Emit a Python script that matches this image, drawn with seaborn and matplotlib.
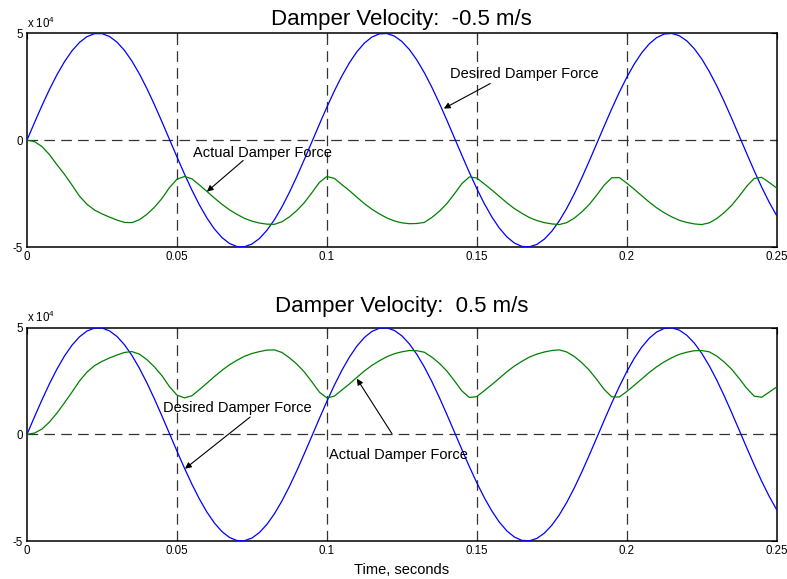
import matplotlib
matplotlib.use("Agg")
import matplotlib.pyplot as plt
import seaborn as sns
import pandas as pd

# ---- data (forces in units of 1e4 N), sampled every 2.5 ms ----
time_s = [round(0.0025 * k, 4) for k in range(101)]

desired_force = [
    0.000, 0.821, 1.620, 2.374, 3.064, 3.672, 4.179, 4.573, 4.843, 4.981,
    4.985, 4.852, 4.589, 4.200, 3.698, 3.095, 2.409, 1.657, 0.860, 0.039,
    -0.782, -1.583, -2.340, -3.033, -3.645, -4.158, -4.557, -4.833, -4.978, -4.987,
    -4.862, -4.604, -4.221, -3.724, -3.126, -2.443, -1.694, -0.898, -0.079, 0.743,
    1.545, 2.305, 3.002, 3.618, 4.135, 4.541, 4.823, 4.974, 4.990, 4.871,
    4.619, 4.242, 3.751, 3.156, 2.477, 1.730, 0.937, 0.118, -0.704, -1.508,
    -2.270, -2.971, -3.591, -4.113, -4.524, -4.812, -4.970, -4.992, -4.880, -4.634,
    -4.263, -3.777, -3.187, -2.512, -1.767, -0.975, -0.157, 0.666, 1.470, 2.235,
    2.939, 3.563, 4.091, 4.507, 4.801, 4.965, 4.994, 4.888, 4.649, 4.283,
    3.802, 3.216, 2.545, 1.804, 1.014, 0.196, -0.627, -1.433, -2.200, -2.907,
    -3.536,
]

actual_force_neg = [
    0.00, -0.07, -0.30, -0.68, -1.15, -1.60, -2.10, -2.62, -3.00, -3.27,
    -3.45, -3.60, -3.74, -3.85, -3.86, -3.72, -3.47, -3.14, -2.73, -2.22,
    -1.83, -1.70, -1.81, -2.10, -2.40, -2.71, -3.00, -3.26, -3.47, -3.66,
    -3.79, -3.88, -3.93, -3.94, -3.82, -3.59, -3.29, -2.92, -2.46, -1.98,
    -1.70, -1.79, -2.08, -2.36, -2.67, -2.97, -3.23, -3.45, -3.64, -3.78,
    -3.87, -3.91, -3.90, -3.85, -3.62, -3.33, -2.97, -2.52, -2.04, -1.72,
    -1.77, -2.05, -2.33, -2.63, -2.93, -3.20, -3.42, -3.62, -3.76, -3.86,
    -3.92, -3.95, -3.86, -3.65, -3.36, -3.01, -2.57, -2.10, -1.76, -1.75,
    -2.01, -2.30, -2.60, -2.90, -3.17, -3.40, -3.59, -3.75, -3.85, -3.92,
    -3.95, -3.87, -3.67, -3.39, -3.05, -2.62, -2.16, -1.79, -1.74, -1.98,
    -2.24,
]

actual_force_pos = [
    0.00, 0.06, 0.25, 0.58, 1.00, 1.48, 1.98, 2.50, 2.92, 3.22,
    3.42, 3.58, 3.72, 3.84, 3.88, 3.76, 3.50, 3.16, 2.75, 2.24,
    1.84, 1.71, 1.81, 2.10, 2.40, 2.71, 3.00, 3.26, 3.47, 3.66,
    3.79, 3.88, 3.95, 3.96, 3.84, 3.59, 3.29, 2.92, 2.46, 1.98,
    1.71, 1.79, 2.08, 2.36, 2.67, 2.97, 3.23, 3.45, 3.64, 3.78,
    3.87, 3.93, 3.92, 3.85, 3.62, 3.33, 2.97, 2.52, 2.04, 1.73,
    1.77, 2.05, 2.33, 2.63, 2.93, 3.20, 3.42, 3.62, 3.76, 3.86,
    3.93, 3.96, 3.86, 3.65, 3.36, 3.01, 2.57, 2.10, 1.76, 1.75,
    2.01, 2.30, 2.60, 2.90, 3.17, 3.40, 3.59, 3.75, 3.85, 3.92,
    3.93, 3.87, 3.67, 3.39, 3.05, 2.62, 2.16, 1.79, 1.74, 1.98,
    2.22,
]

titles = ["Damper Velocity:  -0.5 m/s", "Damper Velocity:  0.5 m/s"]
x_ticks = [0, 0.05, 0.1, 0.15, 0.2, 0.25]
x_tick_labels = ["0", "0.05", "0.1", "0.15", "0.2", "0.25"]
y_ticks = [-5, 0, 5]
y_tick_labels = ["-5", "0", "5"]

# ---- style ----
sns.set_style("white")
plt.rcParams["font.family"] = ["Liberation Sans", "DejaVu Sans"]
plt.rcParams["text.color"] = "black"
plt.rcParams["axes.labelcolor"] = "black"
plt.rcParams["xtick.color"] = "black"
plt.rcParams["ytick.color"] = "black"
plt.rcParams["mathtext.fontset"] = "custom"
plt.rcParams["mathtext.rm"] = "Liberation Sans"
plt.rcParams["mathtext.it"] = "Liberation Sans:italic"
plt.rcParams["mathtext.bf"] = "Liberation Sans:bold"

W, H = 787, 579
fig = plt.figure(figsize=(W / 100, H / 100), dpi=100)
fig.patch.set_facecolor("white")

def px_axes(left, top, right, bottom):
    return fig.add_axes([left / W, 1 - bottom / H, (right - left) / W, (bottom - top) / H])

ax_top = px_axes(27, 33.3, 776.7, 247)
ax_bot = px_axes(27, 327.7, 776.7, 541)

blue = "#0000ff"
green = "#008000"
grid_kw = dict(color="#333333", lw=0.9, dashes=(8.5, 5), zorder=1)

panels = [
    (ax_top, actual_force_neg, titles[0], 6),
    (ax_bot, actual_force_pos, titles[1], 11),
]

for ax, actual, title, pad in panels:
    df = pd.DataFrame({"t": time_s, "desired": desired_force, "actual": actual})
    sns.lineplot(data=df, x="t", y="desired", ax=ax, color=blue, lw=0.9, zorder=3)
    sns.lineplot(data=df, x="t", y="actual", ax=ax, color=green, lw=0.9, zorder=3)
    ax.set_xlim(0, 0.25)
    ax.set_ylim(-5, 5)
    ax.set_xticks(x_ticks)
    ax.set_xticklabels(x_tick_labels)
    ax.set_yticks(y_ticks)
    ax.set_yticklabels(y_tick_labels)
    ax.set_xlabel("")
    ax.set_ylabel("")
    for xv in x_ticks[1:-1]:
        ax.axvline(xv, **grid_kw)
    ax.axhline(0, **grid_kw)
    for s in ax.spines.values():
        s.set_visible(True)
        s.set_color("black")
        s.set_linewidth(1.1)
    ax.tick_params(axis="both", direction="in", length=4, width=0.8, labelsize=8.3,
                   top=True, right=True, pad=3, colors="black")
    ax.set_title(title, fontsize=16, pad=pad, color="black")
    ax.text(0.0, 1.012, "x 10$^{4}$", transform=ax.transAxes, ha="left", va="bottom",
            fontsize=8.3, color="black")

arrow_kw = dict(arrowstyle="-|>", color="black", lw=0.8, mutation_scale=9,
                shrinkA=0, shrinkB=0)
label_kw = dict(fontsize=10.5, ha="left", va="center", color="black")

ax_top.text(0.0554, -0.62, "Actual Damper Force", **label_kw)
ax_top.annotate("", xy=(0.060, -2.41), xytext=(0.0721, -0.95), arrowprops=arrow_kw)
ax_top.text(0.1412, 3.08, "Desired Damper Force", **label_kw)
ax_top.annotate("", xy=(0.139, 1.48), xytext=(0.1545, 2.65), arrowprops=arrow_kw)

ax_bot.text(0.0452, 1.25, "Desired Damper Force", **label_kw)
ax_bot.annotate("", xy=(0.0527, -1.61), xytext=(0.0744, 0.81), arrowprops=arrow_kw)
ax_bot.text(0.1006, -0.98, "Actual Damper Force", **label_kw)
ax_bot.annotate("", xy=(0.110, 2.61), xytext=(0.1217, 0.03), arrowprops=arrow_kw)

ax_bot.set_xlabel("Time, seconds", fontsize=10.5, labelpad=4, color="black")

fig.savefig("out.png", dpi=100, facecolor="white")
